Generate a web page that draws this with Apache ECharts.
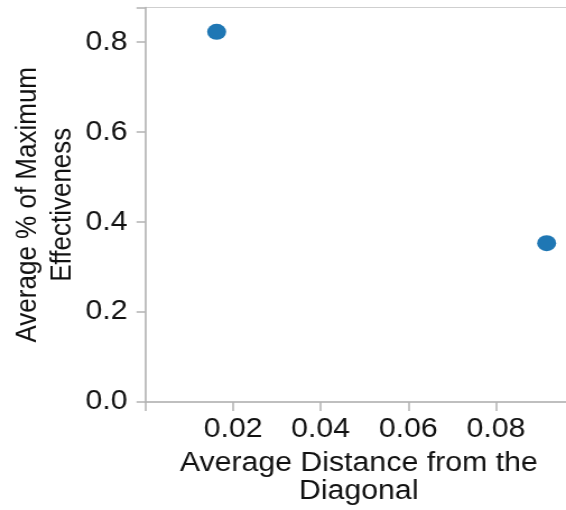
<!DOCTYPE html>
<html>
<head>
<meta charset="utf-8">
<script src="https://cdn.jsdelivr.net/npm/echarts@6/dist/echarts.min.js"></script>
<style>
html,body{margin:0;padding:0;background:#fff;overflow:hidden;}
#wrap{width:566px;height:510px;overflow:hidden;}
#chart{width:505px;height:510px;transform:scaleX(1.1208);transform-origin:0 0;}
</style>
</head>
<body>
<div id="wrap"><div id="chart"></div></div>
<script>
const xValues = [0.01625, 0.0916];
const yValues = [0.823, 0.353];
const xTickLabels = ['0.02', '0.04', '0.06', '0.08'];
const yTickLabels = ['0.0', '0.2', '0.4', '0.6', '0.8'];
const xTitle = 'Average Distance from the\nDiagonal';
const yTitle = 'Average % of Maximum\nEffectiveness';

const points = xValues.map((x, i) => [x, yValues[i]]);
const font = "'Liberation Sans', Arial, sans-serif";
const axisColor = '#b3b3b3';

function near(v, step){ return Math.abs(v/step - Math.round(v/step)) < 1e-6; }

const chart = echarts.init(document.getElementById('chart'), null, {renderer:'canvas'});
chart.setOption({
  animation: false,
  backgroundColor: '#fff',
  grid: {left: 129.8, right: -5.4, top: 7.5, bottom: 108, show: true, borderColor: '#cfcfcf', borderWidth: 1, containLabel: false, outerBoundsMode: 'none'},
  xAxis: {
    type: 'value', min: 0, max: 0.0974, interval: 0.02,
    name: xTitle, nameLocation: 'middle', nameGap: 48, nameMoveOverlap: false,
    nameTextStyle: {fontFamily: font, fontSize: 27, color: '#111', lineHeight: 28},
    axisLine: {show: true, onZero: false, lineStyle: {color: axisColor, width: 1.5}},
    axisTick: {show: true, length: 9, lineStyle: {color: axisColor, width: 1.5}},
    splitLine: {show: false},
    axisLabel: {fontFamily: font, fontSize: 27, color: '#111', margin: 14,
      formatter: v => { if (v <= 0 || !near(v, 0.02)) return ''; const s = v.toFixed(2); return xTickLabels.includes(s) ? s : ''; }}
  },
  yAxis: {
    type: 'value', min: 0, max: 0.877, interval: 0.2,
    name: yTitle, nameLocation: 'middle', nameGap: 58, nameRotate: 90, nameMoveOverlap: false,
    nameTextStyle: {fontFamily: font, fontSize: 26, color: '#111', lineHeight: 31},
    axisLine: {show: true, onZero: false, lineStyle: {color: axisColor, width: 1.5}},
    axisTick: {show: true, length: 8, lineStyle: {color: axisColor, width: 1.5}},
    splitLine: {show: false},
    axisLabel: {fontFamily: font, fontSize: 27, color: '#111', margin: 16,
      formatter: v => { if (!near(v, 0.2)) return ''; const s = v.toFixed(1); return yTickLabels.includes(s) ? s : ''; }}
  },
  series: [{
    type: 'scatter',
    data: points,
    symbol: 'circle',
    symbolSize: [17, 16],
    itemStyle: {color: '#1f77b4', opacity: 1}
  }]
});
</script>
</body>
</html>
